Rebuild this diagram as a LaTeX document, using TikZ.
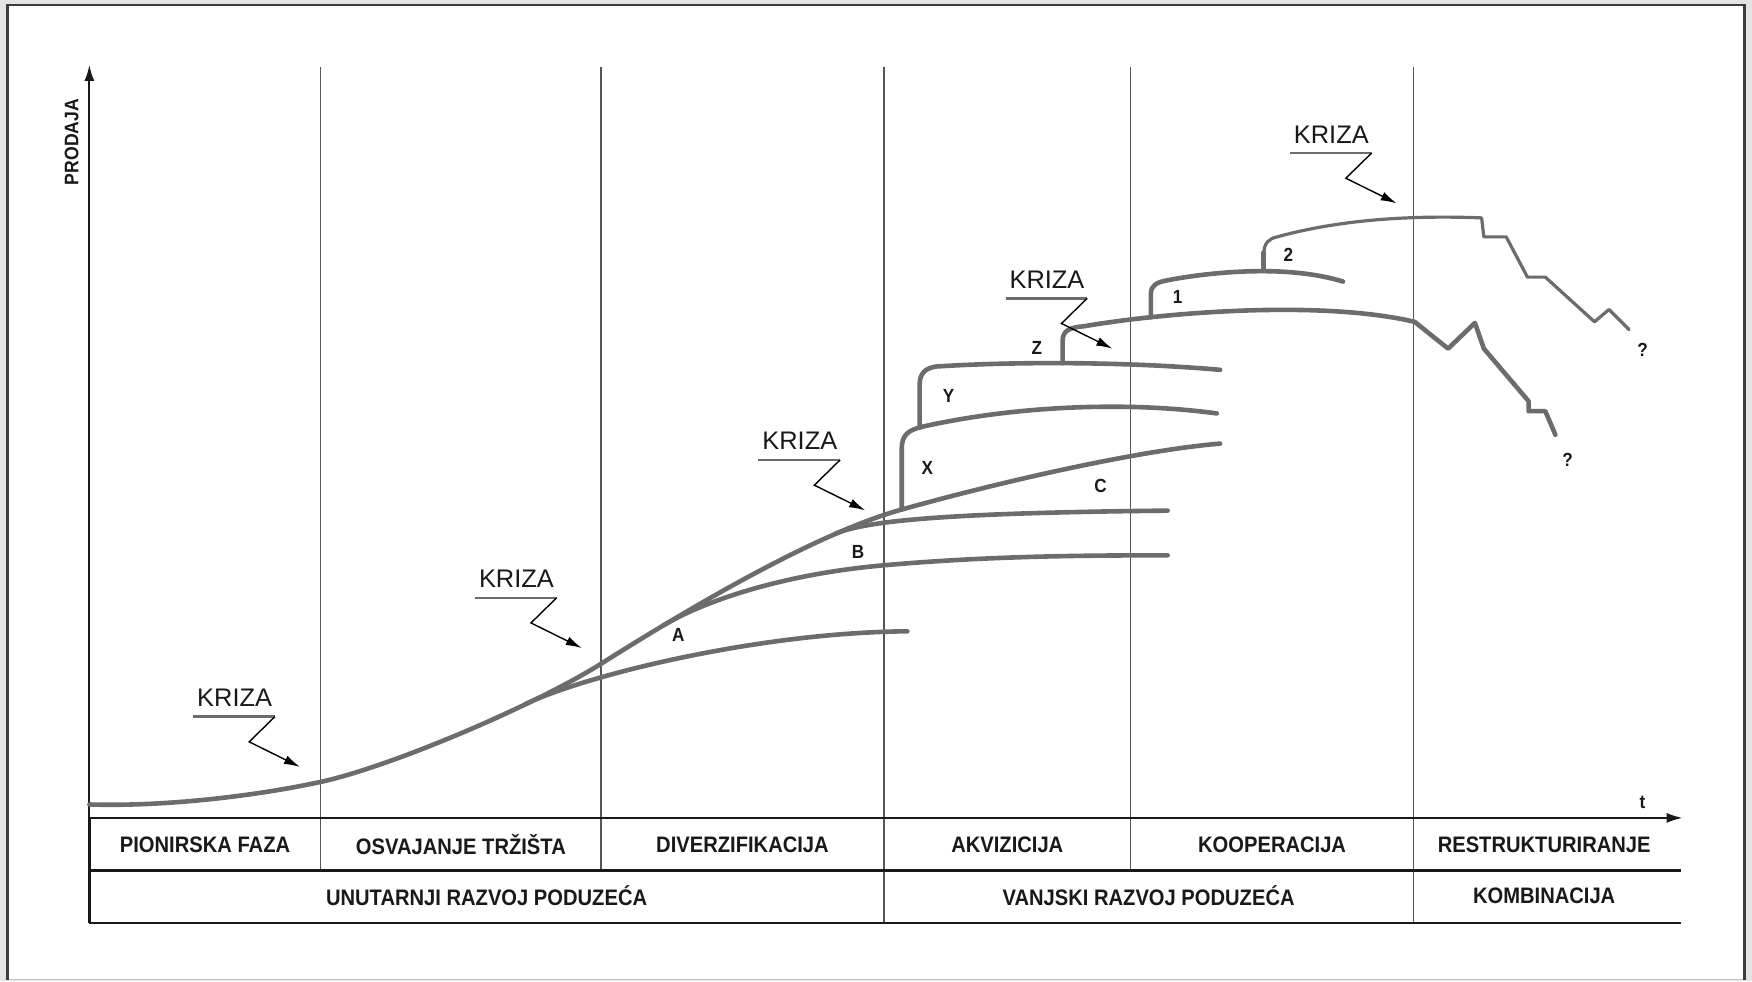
\documentclass[tikz,border=0pt]{standalone}
\usepackage{fontspec}
\setmainfont{Liberation Sans}
\newfontfamily\narrowsans{Liberation Sans}[FakeStretch=0.9]
\usetikzlibrary{arrows.meta}

\definecolor{curvegray}{RGB}{108,108,108}
\definecolor{gridgray}{RGB}{85,85,85}
\definecolor{framegray}{RGB}{60,60,60}
\definecolor{inkdark}{RGB}{25,25,25}

\tikzset{
  curve/.style={draw=curvegray, line width=2.3pt, line cap=round, line join=round},
  thincurve/.style={curve, line width=1.6pt},
  divider/.style={draw=gridgray, line width=0.7pt},
  rule/.style={draw=inkdark, line width=1.2pt},
  axisline/.style={draw=inkdark, line width=1.1pt, -{Latex[length=8pt,width=5pt]}},
  phase/.style={text=inkdark, inner sep=0pt, font={\narrowsans\bfseries\fontsize{11.2}{13}\selectfont}},
  tag/.style={text=inkdark, inner sep=0pt, font={\narrowsans\bfseries\fontsize{9.5}{11}\selectfont}},
  krizatext/.style={text=inkdark, inner sep=0pt, anchor=base, font={\fontsize{12.7}{14}\selectfont}},
  krizarule/.style={draw=curvegray, line width=1.2pt},
  krizaarrow/.style={draw=black, line width=0.7pt, line join=miter, -{Latex[length=8pt,width=4.5pt]}},
}

% crisis callout: label, underline and zig-zag arrow; #2 is the right end of the underline
\newcommand\krizacallout[2]{%
  \begin{scope}[shift={#2}]
    \node[krizatext] (#1) at (-36,-9) {KRIZA};
    \coordinate (#1-l) at (-73,0);
    \coordinate (#1-r) at (0,0);
    \coordinate (#1-z) at (-23,22.5);
    \coordinate (#1-tip) at (22.5,45);
    \draw[krizarule] (#1-l) -- (#1-r);
    \draw[krizaarrow] (#1-r) -- (#1-z) -- (#1-tip);
  \end{scope}}

\begin{document}
\begin{tikzpicture}[x=0.558673pt, y=-0.558673pt]
  \useasboundingbox (0,0) rectangle (1568,878);

  % page frame
  \fill[gray!22] (0,0) rectangle (1568,878);
  \fill[white] (6,4) rectangle (1561,876.5);
  \draw[gray!45, line width=0.8pt] (6.5,876.5) -- (1561,876.5);
  \draw[framegray, line width=1.3pt] (6.5,877) -- (6.5,4.5) -- (1561,4.5) -- (1561,877);

  % phase dividers
  \foreach \x in {287,538,1012} \draw[divider] (\x,60) -- (\x,779);
  \foreach \x in {791,1265} \draw[divider] (\x,60) -- (\x,826);

  % table rules
  \draw[rule] (80,779) -- (1504,779);
  \draw[rule] (80,826) -- (1504,826);

  % axes
  \coordinate (origin) at (80,732);
  \coordinate (ytop) at (80,58);
  \coordinate (xend) at (1506,732);
  \coordinate (tablecorner) at (80,826);
  \draw[rule] (tablecorner) -- (origin);
  \draw[axisline] (origin) -- (ytop);
  \draw[axisline] (origin) -- (xend);
  \node[tag, font={\narrowsans\bfseries\fontsize{9.8}{11}\selectfont}, rotate=90] (prodaja) at (64,127) {PRODAJA};
  \node[tag] (tlabel) at (1470,718) {t};

  % phase names
  \node[phase] (pion)  at (183.5,756) {PIONIRSKA FAZA};
  \node[phase] (osv)   at (412.5,756) {OSVAJANJE TRŽIŠTA};
  \node[phase] (div)   at (664.5,756) {DIVERZIFIKACIJA};
  \node[phase] (akv)   at (901.5,756) {AKVIZICIJA};
  \node[phase] (koop)  at (1138.5,756) {KOOPERACIJA};
  \node[phase] (restr) at (1382,756) {RESTRUKTURIRANJE};
  \node[phase] (unut)  at (435.5,802) {UNUTARNJI RAZVOJ PODUZEĆA};
  \node[phase] (vanj)  at (1028,802) {VANJSKI RAZVOJ PODUZEĆA};
  \node[phase] (komb)  at (1382,802) {KOMBINACIJA};

  % branch points on the growth curve
  \coordinate (splitA) at (470.1,630.2);
  \coordinate (splitB) at (594.4,559.3);
  \coordinate (splitC) at (747.5,477.8);
  \coordinate (splitX) at (807,456);

  % growth curve
  \draw[curve] (80,720) .. controls (150,722) and (230,712) .. (286,700)
               .. controls (350,686.3) and (480,630.5) .. (538,594)
               .. controls (630,536) and (735,476) .. (splitX)
               .. controls (900,430) and (1020,403) .. (1092,397);
  % diversification branches
  \draw[curve] (splitA) .. controls (525,603.9) and (680,566) .. (812,565);
  \draw[curve] (splitB) .. controls (630,538) and (700,514) .. (790,506)
               .. controls (880,498) and (960,497) .. (1045,497);
  \draw[curve] (splitC) .. controls (775,465.8) and (850,459) .. (1045,457);

  % acquisitions X, Y, Z
  \draw[curve] (splitX) -- (807,402) .. controls (807,389) and (813,385) .. (825,382)
               .. controls (900,365) and (1000,358) .. (1089,370);
  \draw[curve] (823,383) -- (823,345) .. controls (823,334) and (828,329.5) .. (838,328)
               .. controls (900,324) and (1000,323) .. (1092,331);
  \draw[curve] (951,325) -- (951,305) .. controls (951,296) and (957,293) .. (970,292)
               .. controls (1040,280) and (1180,268) .. (1266,288)
               -- (1296,312) -- (1320,289) -- (1328,312) -- (1368,359) -- (1368,368) -- (1383,368) -- (1392,389);

  % cooperations 1 and 2
  \draw[curve] (1030,284) -- (1030,263) .. controls (1030,255) and (1036,252.5) .. (1044,251)
               .. controls (1080,244) and (1150,236) .. (1202,252);
  \draw[curve] (1131,242) -- (1131,226);
  \draw[thincurve] (1131,228) .. controls (1131,217) and (1136,213.5) .. (1143,212)
               .. controls (1190,199) and (1250,192) .. (1326,195)
               -- (1328,212) -- (1348,212) -- (1367,248) -- (1383,248) -- (1427,288) -- (1440,277) -- (1458,295);

  % branch labels
  \node[tag] (lA) at (607,568) {A};
  \node[tag] (lB) at (768,494) {B};
  \node[tag] (lC) at (985,435) {C};
  \node[tag] (lX) at (830,419) {X};
  \node[tag] (lY) at (849,354) {Y};
  \node[tag] (lZ) at (928,311) {Z};
  \node[tag] (l1) at (1054,266) {1};
  \node[tag] (l2) at (1153,228) {2};
  \node[tag] (q1) at (1470,313) {?};
  \node[tag] (q2) at (1403,412) {?};

  % crises
  \krizacallout{k1}{(246,641.4)}
  \krizacallout{k2}{(498.2,535)}
  \krizacallout{k3}{(751.8,411.7)}
  \krizacallout{k4}{(973,267)}
  \krizacallout{k5}{(1227.5,137)}
\end{tikzpicture}
\end{document}
